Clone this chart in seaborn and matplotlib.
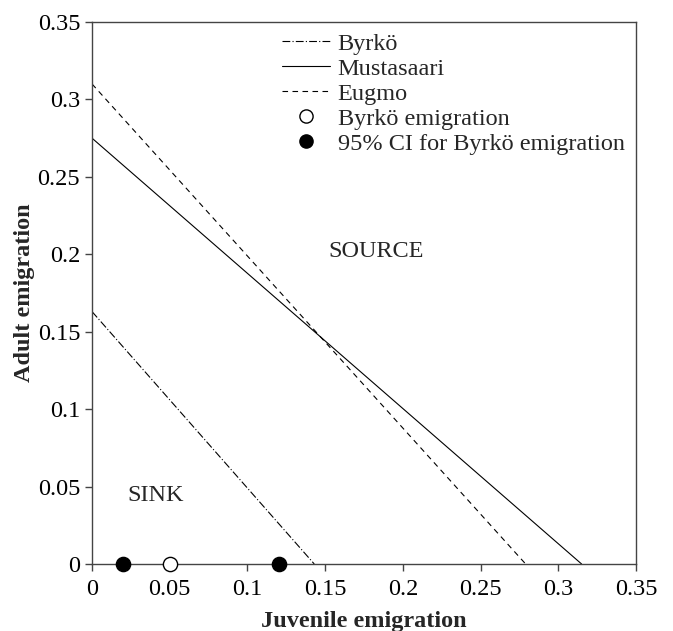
import matplotlib
matplotlib.use("Agg")
import matplotlib.pyplot as plt
import seaborn as sns
import pandas as pd
from matplotlib.lines import Line2D

# Data
series_names = ["Byrkö", "Mustasaari", "Eugmo"]
juvenile_endpoints = {"Byrkö": [0.0, 0.143], "Mustasaari": [0.0, 0.315], "Eugmo": [0.0, 0.279]}
adult_endpoints = {"Byrkö": [0.163, 0.0], "Mustasaari": [0.275, 0.0], "Eugmo": [0.310, 0.0]}
byrko_emig_x = [0.050]
byrko_emig_y = [0.0]
ci_x = [0.020, 0.120]
ci_y = [0.0, 0.0]
ticks = [0, 0.05, 0.1, 0.15, 0.2, 0.25, 0.3, 0.35]
tick_labels = ["0", "0.05", "0.1", "0.15", "0.2", "0.25", "0.3", "0.35"]
legend_labels = ["Byrkö", "Mustasaari", "Eugmo", "Byrkö emigration", "95% CI for Byrkö emigration"]

sns.set_style("ticks")
plt.rcParams['font.family'] = ['Liberation Serif', 'DejaVu Serif']
FS = 17.5

fig, ax = plt.subplots(figsize=(6.73, 6.31), dpi=100)
fig.subplots_adjust(left=92/673, right=636/673, top=1-22/631, bottom=1-564/631)

styles = {"Byrkö": (0, (7, 2, 1, 2)), "Mustasaari": "-", "Eugmo": (0, (5, 4))}
for name in series_names:
    df = pd.DataFrame({"x": juvenile_endpoints[name], "y": adult_endpoints[name]})
    sns.lineplot(data=df, x="x", y="y", ax=ax, color="black", linewidth=0.8,
                 linestyle=styles[name], sort=False, estimator=None)

sns.scatterplot(x=byrko_emig_x, y=byrko_emig_y, ax=ax, s=105, facecolor="white",
                edgecolor="black", linewidth=1.0, zorder=5)
sns.scatterplot(x=ci_x, y=ci_y, ax=ax, s=105, color="black",
                edgecolor="black", linewidth=1.0, zorder=5)
for c in ax.collections:
    c.set_clip_on(False)

ax.set_xlim(0, 0.35)
ax.set_ylim(0, 0.35)
ax.set_xticks(ticks)
ax.set_xticklabels(tick_labels, fontfamily=['Liberation Serif', 'DejaVu Serif'])
ax.set_yticks(ticks)
ax.set_yticklabels(tick_labels, fontfamily=['Liberation Serif', 'DejaVu Serif'])
ax.tick_params(axis="x", pad=6)
ax.tick_params(axis="both", direction="out", length=5, width=1.0, labelsize=FS,
               color="#444444", labelcolor="black")
for s in ax.spines.values():
    s.set_linewidth(1.0)
    s.set_color("#444444")

ax.set_xlabel("Juvenile emigration", fontsize=FS, fontweight="bold", labelpad=8)
ax.set_ylabel("Adult emigration", fontsize=FS, fontweight="bold", labelpad=2)

ax.text(0.183, 0.2015, "SOURCE", fontsize=FS, ha="center", va="center")
ax.text(0.041, 0.044, "SINK", fontsize=FS, ha="center", va="center")

handles = [
    Line2D([], [], color="black", lw=0.8, linestyle=styles["Byrkö"]),
    Line2D([], [], color="black", lw=0.8, linestyle="-"),
    Line2D([], [], color="black", lw=0.8, linestyle=styles["Eugmo"]),
    Line2D([], [], color="black", marker="o", markerfacecolor="white", markersize=9.5, lw=0),
    Line2D([], [], color="black", marker="o", markerfacecolor="black", markersize=9.5, lw=0),
]
ax.legend(handles, legend_labels, loc="upper left", bbox_to_anchor=(0.349, 0.98), frameon=False,
          fontsize=FS, labelspacing=0.12, handlelength=2.0, handletextpad=0.3,
          borderpad=0, borderaxespad=0)

fig.savefig("out.png", dpi=100)
